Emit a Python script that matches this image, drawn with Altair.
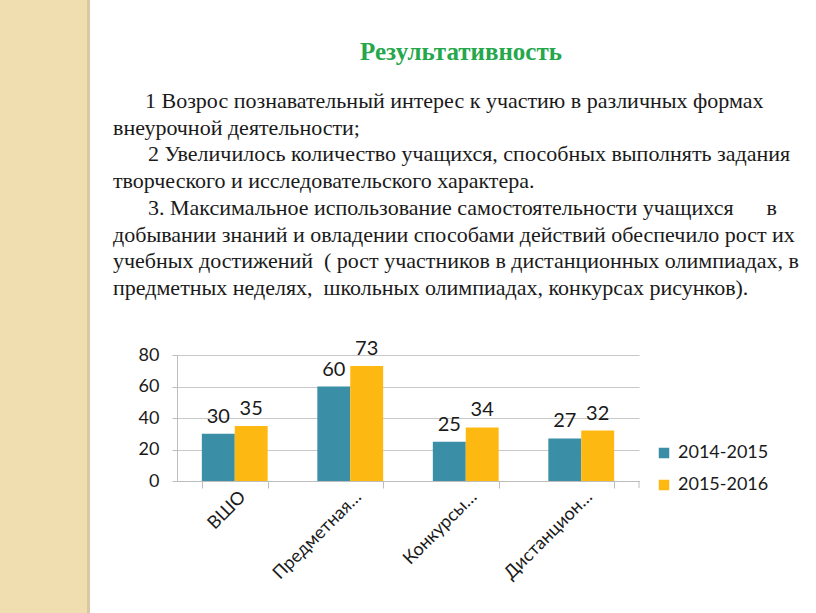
import altair as alt
import pandas as pd

categories = ["ВШО", "Предметная…", "Конкурсы…", "Дистанцион…"]
series = ["2014-2015", "2015-2016"]
values_2014 = [30, 60, 25, 27]
values_2015 = [35, 73, 34, 32]
y_ticks = [0, 20, 40, 60, 80]

NB = "\u00a0"
title_text = "Результативность"
para_lines = [
    "1 Возрос познавательный интерес к участию в различных формах",
    "внеурочной деятельности;",
    "2 Увеличилось количество учащихся, способных выполнять задания",
    "творческого и исследовательского характера.",
    "3. Максимальное использование самостоятельности учащихся" + NB * 6 + "в",
    "добывании знаний и овладении способами действий обеспечило рост их",
    "учебных достижений " + NB + "( рост участников в дистанционных олимпиадах, в",
    "предметных неделях, " + NB + "школьных олимпиадах, конкурсах рисунков).",
]

rows = []
for c, a, b in zip(categories, values_2014, values_2015):
    rows.append({"cat": c, "series": series[0], "value": a})
    rows.append({"cat": c, "series": series[1], "value": b})
df = pd.DataFrame(rows)

# layout (pixels)
PL, PT, W, H = 177, 355, 462, 126
PAGE_W, PAGE_H = 816, 613
TEAL, YELLOW = "#3a8ea6", "#fdb912"
CHART_FONT = "Lato"
TEXT_FONT = "Liberation Serif"

one = pd.DataFrame({"k": [0]})

strip = alt.Chart(one).mark_rect(color="#f0ddb0").encode(
    x=alt.value(-PL), x2=alt.value(87 - PL),
    y=alt.value(-PT), y2=alt.value(PAGE_H - PT),
)
edge = alt.Chart(one).mark_rect(color="#d8c9a3").encode(
    x=alt.value(87 - PL), x2=alt.value(90 - PL),
    y=alt.value(-PT), y2=alt.value(PAGE_H - PT),
)

title_layer = alt.Chart(pd.DataFrame({"title": [title_text]})).mark_text(
    align="center", font=TEXT_FONT, fontSize=25,
    fontWeight="bold", color="#25a74c",
).encode(x=alt.value(461 - PL), y=alt.value(52 - PT), text="title:N")

line_x = [145, 113, 148, 113, 148, 113, 113, 113]
text_layers = []
for i, (line, lx) in enumerate(zip(para_lines, line_x)):
    text_layers.append(
        alt.Chart(pd.DataFrame({"line": [line]})).mark_text(
            align="left", font=TEXT_FONT, fontSize=22, color="#1a1a1a",
        ).encode(x=alt.value(lx - PL), y=alt.value(101 + 26.7 * i - PT), text="line:N")
    )

base = alt.Chart(df).encode(
    x=alt.X(
        "cat:N", sort=categories, title=None,
        scale=alt.Scale(paddingInner=0.43, paddingOuter=0.215),
        axis=alt.Axis(
            labelAngle=-45, labelAlign="right", labelBaseline="middle",
            labelFontSize=18, labelFont=CHART_FONT, labelColor="#1a1a1a",
            labelPadding=6, labelOffset=8, tickBand="extent", tickSize=7,
            tickColor="#bdbdbd", domainColor="#bdbdbd", grid=False,
        ),
    ),
    xOffset=alt.XOffset("series:N", sort=series),
    y=alt.Y(
        "value:Q", title=None,
        scale=alt.Scale(domain=[0, 80], nice=False),
        axis=alt.Axis(
            values=y_ticks, labelFontSize=18, labelFont=CHART_FONT,
            labelColor="#1a1a1a", labelPadding=13, tickSize=5,
            tickColor="#bdbdbd", domainColor="#bdbdbd", gridColor="#c8c8c8",
        ),
    ),
)

bars = base.mark_bar().encode(
    color=alt.Color(
        "series:N", sort=series,
        scale=alt.Scale(domain=series, range=[TEAL, YELLOW]),
        legend=alt.Legend(
            title=None, orient="none", legendX=655 - PL, legendY=444 - PT,
            symbolType="square", symbolSize=110, symbolStrokeWidth=0,
            labelFontSize=18, labelFont=CHART_FONT, labelColor="#1a1a1a",
            rowPadding=14, labelOffset=5,
        ),
    )
)
labels = base.mark_text(
    baseline="bottom", dy=-7, fontSize=20, font=CHART_FONT, color="#1a1a1a"
).encode(text="value:Q")

end_tick = alt.Chart(one).mark_rule(color="#bdbdbd").encode(
    x=alt.value(W), y=alt.value(H), y2=alt.value(H + 7)
)

chart = alt.layer(
    strip, edge, title_layer, *text_layers, bars, labels, end_tick
).properties(
    width=W, height=H,
    autosize=alt.AutoSizeParams(type="none"),
    padding={"left": PL, "top": PT, "right": PAGE_W - PL - W, "bottom": PAGE_H - PT - H},
    background="white",
).configure_view(stroke=None)

chart.save("out.html", embed_options={"renderer": "svg", "actions": False})
